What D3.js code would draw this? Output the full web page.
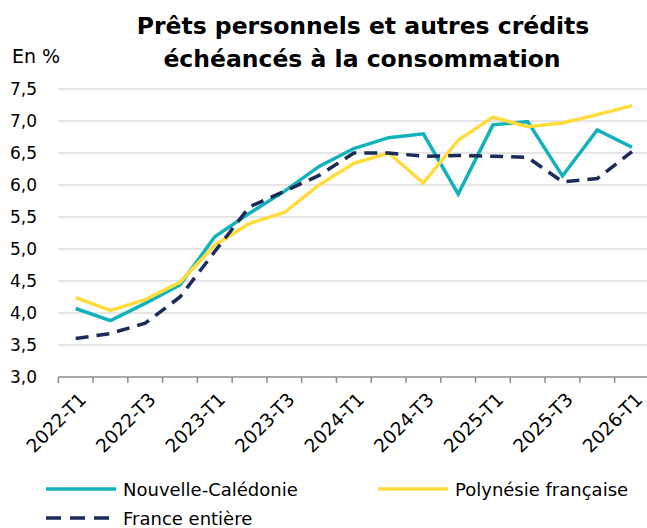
<!DOCTYPE html>
<html>
<head>
<meta charset="utf-8">
<script src="https://cdn.jsdelivr.net/npm/d3@7"></script>
<style>
  body { margin: 0; background: #fff; }
  text { font-family: 'DejaVu Sans', sans-serif; fill: #000; }
</style>
</head>
<body>
<script>
const width = 647
const height = 528

const categories = ['2022-T1', '2022-T2', '2022-T3', '2022-T4', '2023-T1', '2023-T2', '2023-T3', '2023-T4',
  '2024-T1', '2024-T2', '2024-T3', '2024-T4', '2025-T1', '2025-T2', '2025-T3', '2025-T4', '2026-T1']
const nouvelleCaledonie = [4.07, 3.88, 4.15, 4.44, 5.19, 5.56, 5.90, 6.29, 6.57, 6.74, 6.80, 5.86, 6.94, 6.99, 6.14, 6.86, 6.59]
const polynesie = [4.24, 4.04, 4.21, 4.48, 5.06, 5.40, 5.57, 6.00, 6.34, 6.50, 6.03, 6.70, 7.06, 6.91, 6.97, 7.10, 7.24]
const franceEntiere = [3.60, 3.68, 3.84, 4.25, 4.96, 5.66, 5.90, 6.15, 6.50, 6.50, 6.45, 6.46, 6.45, 6.43, 6.05, 6.10, 6.52]
const yTicks = [3.0, 3.5, 4.0, 4.5, 5.0, 5.5, 6.0, 6.5, 7.0, 7.5]
const xLabels = ['2022-T1', '2022-T3', '2023-T1', '2023-T3', '2024-T1', '2024-T3', '2025-T1', '2025-T3', '2026-T1']

const series = [
  { name: 'Nouvelle-Calédonie', values: nouvelleCaledonie, color: '#12b2bb', dash: null },
  { name: 'Polynésie française', values: polynesie, color: '#ffdc3c', dash: null },
  { name: 'France entière', values: franceEntiere, color: '#1c2b57', dash: '13,8' }
]

const svg = d3.select('body')
  .append('svg')
  .attr('width', width)
  .attr('height', height)

const x = d3.scaleBand()
  .domain(categories)
  .range([58.3, 649.4])
  .padding(0)

const y = d3.scaleLinear()
  .domain([3, 7.5])
  .range([377, 89])

// titre
svg.append('text')
  .attr('x', 363)
  .attr('y', 34)
  .attr('text-anchor', 'middle')
  .style('font-size', '23.5px')
  .style('font-weight', 'bold')
  .text('Prêts personnels et autres crédits')

svg.append('text')
  .attr('x', 362)
  .attr('y', 67)
  .attr('text-anchor', 'middle')
  .style('font-size', '23.5px')
  .style('font-weight', 'bold')
  .text('échéancés à la consommation')

svg.append('text')
  .attr('x', 12)
  .attr('y', 63)
  .style('font-size', '19px')
  .text('En %')

// grille
svg.append('g')
  .selectAll('line')
  .data(yTicks.filter(d => d > 3))
  .enter()
  .append('line')
  .attr('x1', 58.3)
  .attr('x2', width)
  .attr('y1', d => y(d))
  .attr('y2', d => y(d))
  .attr('stroke', '#dcdcdc')
  .attr('stroke-width', 1.5)

// axe Y
const yAxis = svg.append('g')
  .attr('transform', 'translate(37,0)')
  .call(d3.axisLeft(y).tickValues(yTicks).tickSize(0).tickFormat(d => d3.format('.1f')(d).replace('.', ',')))
yAxis.select('.domain').remove()
yAxis.selectAll('text')
  .attr('x', 0)
  .style('font-size', '17px')
  .style('font-family', 'DejaVu Sans')
  .attr('fill', '#000')

// axe X
const xAxis = svg.append('g')
  .attr('transform', `translate(0,${ y(3) })`)

xAxis.append('line')
  .attr('x1', 58.3)
  .attr('x2', width)
  .attr('stroke', '#8c8c8c')
  .attr('stroke-width', 1.5)

xAxis.selectAll('line.tick')
  .data(categories)
  .enter()
  .append('line')
  .attr('class', 'tick')
  .attr('x1', d => x(d))
  .attr('x2', d => x(d))
  .attr('y1', 0)
  .attr('y2', 6)
  .attr('stroke', '#8c8c8c')
  .attr('stroke-width', 1.5)

xAxis.selectAll('text')
  .data(xLabels)
  .enter()
  .append('text')
  .attr('text-anchor', 'end')
  .attr('transform', d => `translate(${ x(d) + x.bandwidth() / 2 + 7 },19) rotate(-45)`)
  .attr('dy', '0.35em')
  .style('font-size', '18.5px')
  .text(d => d)

// courbes
const line = d3.line()
  .x((d, i) => x(categories[i]) + x.bandwidth() / 2)
  .y(d => y(d))

svg.append('g')
  .selectAll('path')
  .data(series)
  .enter()
  .append('path')
  .attr('d', d => line(d.values))
  .attr('fill', 'none')
  .attr('stroke', d => d.color)
  .attr('stroke-width', 3.5)
  .attr('stroke-dasharray', d => d.dash)

// légende
const legendPos = [[46, 489], [378, 489], [46, 518]]
const legend = svg.append('g')
  .selectAll('g')
  .data(series)
  .enter()
  .append('g')
  .attr('transform', (d, i) => `translate(${ legendPos[i][0] },${ legendPos[i][1] })`)

legend.append('line')
  .attr('x1', 0)
  .attr('x2', 70)
  .attr('stroke', d => d.color)
  .attr('stroke-width', 3.5)
  .attr('stroke-dasharray', d => d.dash ? '15,9' : null)

legend.append('text')
  .attr('x', 77)
  .attr('y', 7)
  .style('font-size', '18px')
  .text(d => d.name)
</script>
</body>
</html>
